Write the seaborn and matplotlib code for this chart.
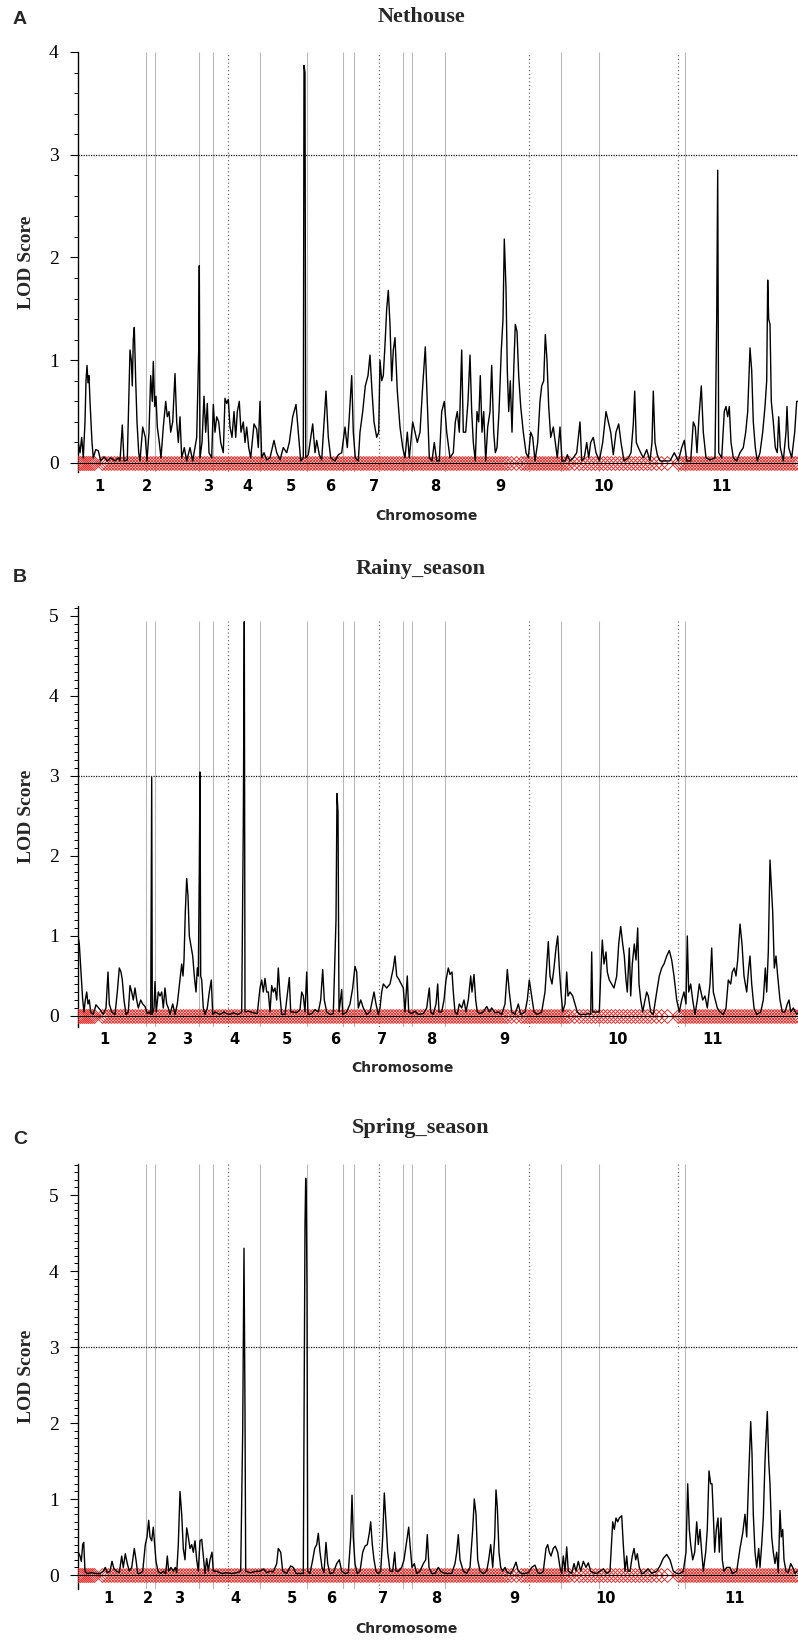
import matplotlib
matplotlib.use("Agg")
import numpy as np
import pandas as pd
import matplotlib.pyplot as plt
import seaborn as sns
from matplotlib.ticker import FixedLocator

# ---------------- data ----------------
chrom_labels = ["1", "2", "3", "4", "5", "6", "7", "8", "9", "10", "11"]
chrom_pos_nethouse = [21, 69, 130, 169, 213, 252, 296, 357, 422, 526, 644]
chrom_pos_rainy = [26, 74, 109, 156, 209, 257, 304, 353, 426, 540, 635]
chrom_pos_spring = [30, 70, 101, 157, 214, 253, 305, 358, 436, 528, 657]

solid_lines = [68, 77, 121, 135, 182, 229, 265, 276, 325, 334, 367, 483, 521, 607]
dotted_lines = [150, 301, 451, 600]
lod_threshold = 3.0

marker_pos = [0, 2, 4, 6, 8, 10, 12, 14, 16, 24, 27, 30, 33, 36, 39, 42, 45, 48, 51, 54,
              57, 60, 63, 66, 69, 72, 75, 78, 81, 84, 87, 90, 93, 96, 99, 102, 105, 108,
              111, 114, 117, 120, 123, 126, 129, 132, 135, 138, 141, 144, 147, 150, 153,
              156, 159, 162, 165, 168, 171, 174, 177, 180, 183, 186, 189, 192, 195, 198,
              201, 204, 207, 210, 213, 216, 219, 222, 225, 228, 231, 234, 237, 240, 243,
              246, 249, 252, 255, 258, 261, 264, 267, 270, 273, 276, 279, 282, 285, 288,
              291, 294, 297, 300, 303, 306, 309, 312, 315, 318, 321, 324, 327, 330, 333,
              336, 339, 342, 345, 348, 351, 354, 357, 360, 363, 366, 369, 372, 375, 378,
              381, 384, 387, 390, 393, 396, 399, 402, 405, 408, 411, 414, 417, 420, 423,
              426, 429, 433, 438, 443, 446, 449, 452, 455, 458, 461, 464, 467, 470, 473,
              476, 479, 482, 485, 488, 491, 496, 501, 505, 509, 513, 517, 521, 525, 529,
              533, 537, 541, 545, 549, 553, 557, 561, 565, 569, 573, 578, 583, 589, 600,
              603, 606, 609, 612, 615, 618, 621, 624, 627, 630, 633, 636, 639, 642, 645,
              648, 651, 654, 657, 660, 663, 666, 669, 672, 675, 678, 681, 684, 687, 690,
              693, 696, 699, 702, 705, 708, 711, 714, 717, 720]

nethouse_profile = [
    (0.3, 0.2), (2, 0.1), (3.7, 0.25), (5.3, 0.05), (7, 0.4), (8, 0.8), (9, 0.95), (10, 0.78),
    (11, 0.85), (12, 0.6), (13, 0.4), (14, 0.2), (15.3, 0.05), (17.7, 0.13), (20.3, 0.12),
    (22.7, 0.02), (26, 0.06), (29.3, 0.02), (32.7, 0.05), (37, 0.02), (40.3, 0.05), (42, 0.02),
    (44.3, 0.37), (46, 0.02), (49.3, 0.03), (50.7, 0.6), (52, 1.1), (53.3, 1.0), (54.3, 0.75),
    (55.3, 1.2), (56.3, 1.32), (57.7, 0.8), (59, 0.4), (60.7, 0.1), (62, 0.02), (64.7, 0.35),
    (67.3, 0.25), (69, 0.02), (71, 0.3), (72.7, 0.85), (74.3, 0.6), (75.3, 0.99), (76.7, 0.55),
    (78, 0.65), (79.3, 0.35), (81.3, 0.2), (83, 0.05), (85.3, 0.35), (87.7, 0.6), (89.3, 0.45),
    (91, 0.5), (92.7, 0.3), (94.7, 0.4), (97, 0.87), (98.7, 0.4), (100.3, 0.2), (102, 0.45),
    (103.7, 0.05), (106.3, 0.15), (108.7, 0.02), (112, 0.15), (114.7, 0.02), (118.7, 0.25),
    (120.7, 1.1), (121.3, 1.92), (122, 0.05), (124, 0.2), (126, 0.65), (127.7, 0.3),
    (129.3, 0.58), (131, 0.1), (133.7, 0.05), (135.3, 0.57), (137, 0.3), (138.7, 0.45),
    (140.7, 0.4), (142.7, 0.2), (145.3, 0.1), (147, 0.63), (148.7, 0.58), (150.3, 0.62),
    (152, 0.35), (154, 0.25), (156, 0.5), (157.7, 0.25), (159.3, 0.5), (161.3, 0.6), (163, 0.3),
    (165.3, 0.4), (167, 0.2), (168.7, 0.35), (170.7, 0.15), (172.7, 0.05), (176, 0.38),
    (178.7, 0.33), (180.3, 0.15), (182, 0.6), (183.7, 0.05), (186, 0.1), (188.7, 0.03),
    (192, 0.05), (196, 0.22), (198.7, 0.1), (202, 0.03), (205.3, 0.15), (208.7, 0.1),
    (211.3, 0.2), (214.7, 0.45), (218, 0.57), (220.3, 0.3), (222.7, 0.02), (225.3, 0.05),
    (226, 3.87), (227, 3.8), (227.7, 0.05), (230.3, 0.08), (234.7, 0.38), (237, 0.1),
    (238.7, 0.22), (241.3, 0.08), (243.7, 0.03), (248, 0.7), (250.3, 0.25), (252.7, 0.05),
    (257, 0.02), (260.3, 0.08), (263.7, 0.1), (267, 0.35), (269.3, 0.15), (271.3, 0.45),
    (273.7, 0.85), (275.3, 0.3), (277.3, 0.05), (280.3, 0.02), (282, 0.3), (284.7, 0.5),
    (287.3, 0.75), (290, 0.85), (292, 1.05), (294, 0.7), (296, 0.4), (298.7, 0.25),
    (300.7, 0.3), (302, 1.0), (303.7, 0.8), (305.3, 0.85), (307, 1.15), (308.7, 1.5),
    (310.3, 1.68), (312, 1.35), (313.7, 0.8), (315.3, 1.1), (317, 1.22), (319.3, 0.7),
    (321.3, 0.45), (322, 0.35), (324.7, 0.15), (327, 0.05), (329.3, 0.3), (331.3, 0.05),
    (334.7, 0.4), (337, 0.3), (339.3, 0.2), (342, 0.3), (344.7, 0.75), (347.3, 1.13),
    (349.3, 0.6), (351.3, 0.05), (354, 0.02), (356.3, 0.2), (358.7, 0.02), (361.3, 0.02),
    (363.7, 0.5), (366.3, 0.6), (368.7, 0.3), (372, 0.05), (375.3, 0.1), (377.3, 0.4),
    (379.3, 0.5), (381.3, 0.3), (383.7, 1.1), (385.3, 0.3), (387.7, 0.3), (390, 0.6),
    (392, 1.05), (393.7, 0.5), (395.3, 0.2), (397.3, 0.02), (399, 0.5), (400.7, 0.4),
    (402.3, 0.85), (404, 0.3), (405.7, 0.5), (407.7, 0.02), (409.7, 0.35), (412, 0.5),
    (413.7, 0.95), (415.7, 0.3), (417.3, 0.1), (419, 0.15), (421, 0.5), (423.3, 1.1),
    (425, 1.4), (426.3, 2.18), (428, 1.7), (429.3, 0.9), (430.7, 0.5), (432.3, 0.8),
    (434, 0.3), (435.7, 0.9), (437.3, 1.35), (439, 1.28), (440.7, 0.85), (442.7, 0.55),
    (445.3, 0.3), (448, 0.1), (450.3, 0.05), (452.7, 0.3), (454.7, 0.25), (457, 0.02),
    (459.7, 0.2), (462, 0.6), (463.7, 0.75), (465.7, 0.8), (467.3, 1.25), (469, 1.0),
    (470.7, 0.55), (472.7, 0.25), (475.3, 0.35), (477.3, 0.2), (479.3, 0.05), (482, 0.35),
    (484, 0.02), (487.3, 0.02), (489.3, 0.08), (492, 0.02), (495.3, 0.05), (498.7, 0.1),
    (502, 0.4), (503.7, 0.02), (506.3, 0.05), (508.7, 0.2), (510.7, 0.05), (512.7, 0.2),
    (515.3, 0.25), (518, 0.1), (521.3, 0.02), (524.7, 0.2), (528, 0.5), (530.3, 0.4),
    (532.7, 0.3), (535.3, 0.08), (538, 0.3), (540.7, 0.38), (543, 0.2), (546, 0.02),
    (550.3, 0.05), (553, 0.1), (555.3, 0.38), (556.7, 0.7), (558.3, 0.2), (560.3, 0.15),
    (562.7, 0.1), (565.3, 0.05), (568.7, 0.13), (572, 0.02), (574, 0.2), (575.3, 0.7),
    (577, 0.2), (579.3, 0.08), (582, 0.02), (587, 0.02), (592, 0.02), (596.3, 0.1),
    (600.3, 0.02), (603.7, 0.15), (606.3, 0.22), (608.7, 0.02), (612.7, 0.02), (615.3, 0.4),
    (617.3, 0.35), (619, 0.1), (621, 0.45), (623.3, 0.75), (625.3, 0.3), (628, 0.05),
    (632, 0.03), (637, 0.05), (638.7, 1.4), (639.7, 2.85), (640.7, 0.1), (643.7, 0.05),
    (646.3, 0.5), (648, 0.55), (649.7, 0.45), (651.3, 0.55), (653, 0.2), (655.3, 0.05),
    (658.7, 0.02), (662, 0.1), (665.3, 0.15), (667.7, 0.3), (669.7, 0.5), (672, 1.12),
    (673.7, 0.9), (675.3, 0.4), (677.3, 0.15), (679.3, 0.02), (682, 0.1), (684.7, 0.3),
    (687, 0.55), (688.7, 0.8), (689.7, 1.78), (690.7, 1.4), (692, 1.35), (693.3, 0.6),
    (695.3, 0.4), (697.3, 0.15), (699.3, 0.1), (700.7, 0.45), (702.3, 0.15), (705.3, 0.02),
    (708, 0.3), (709, 0.55), (710.7, 0.15), (713.7, 0.05), (716.7, 0.3), (718.7, 0.6),
    (720.7, 0.6)]

rainy_profile = [
    (0.3, 0.98), (1.3, 0.9), (2.7, 0.6), (3.7, 0.4), (4.7, 0.2), (6, 0.05), (7.3, 0.2),
    (8.7, 0.3), (10, 0.15), (11.3, 0.2), (12.7, 0.05), (15.3, 0.02), (18, 0.14), (22, 0.08),
    (25.3, 0.02), (28, 0.1), (30, 0.55), (31.3, 0.15), (33.7, 0.05), (37, 0.02), (39.3, 0.3),
    (41.3, 0.6), (43, 0.55), (44.3, 0.45), (46, 0.2), (48, 0.02), (50.3, 0.05), (52, 0.38),
    (53.7, 0.3), (55.3, 0.2), (57, 0.35), (58.7, 0.2), (60.3, 0.1), (62.7, 0.2), (64.7, 0.15),
    (67, 0.12), (69.3, 0.03), (71.3, 0.05), (72.7, 0.02), (73.7, 2.98), (74.3, 0.02), (76, 0.1),
    (77, 0.43), (78.3, 0.05), (80.3, 0.3), (82, 0.25), (83.7, 0.3), (85.3, 0.1), (87, 0.35),
    (88.7, 0.15), (90.3, 0.1), (92, 0.02), (94.7, 0.15), (97, 0.02), (99.3, 0.15), (102, 0.45),
    (103.7, 0.65), (105, 0.5), (106, 0.7), (107.3, 1.3), (108.7, 1.72), (110, 1.5),
    (111.3, 1.0), (112.7, 0.9), (114.7, 0.75), (116.3, 0.5), (118, 0.3), (119.3, 0.6),
    (120.3, 0.5), (121.3, 1.8), (122, 3.05), (122.7, 0.5), (123.7, 0.45), (125.3, 0.1),
    (127, 0.02), (129.3, 0.1), (131.3, 0.3), (133.3, 0.45), (134.7, 0.02), (137, 0.05),
    (142, 0.02), (146, 0.05), (148.7, 0.03), (152, 0.02), (155.3, 0.04), (160.3, 0.02),
    (163.7, 0.05), (165.3, 2.4), (166.3, 4.93), (167, 0.05), (170.3, 0.06), (175.3, 0.04),
    (179.3, 0.03), (182, 0.35), (183.7, 0.45), (185.3, 0.3), (187, 0.47), (188.7, 0.3),
    (190.3, 0.3), (192, 0.05), (193.7, 0.38), (195.3, 0.3), (197, 0.35), (198.7, 0.2),
    (200.3, 0.6), (202, 0.25), (203.7, 0.02), (207, 0.02), (211.3, 0.48), (212.7, 0.05),
    (215.3, 0.05), (218.7, 0.04), (222, 0.08), (223.7, 0.3), (225.3, 0.25), (227, 0.05),
    (228.7, 0.55), (230, 0.02), (233.7, 0.03), (237, 0.08), (240.3, 0.05), (242.7, 0.2),
    (244.7, 0.58), (246.3, 0.2), (248.7, 0.05), (252, 0.02), (255.3, 0.03), (258, 1.2),
    (259, 2.78), (260, 2.55), (261, 0.05), (263.7, 0.33), (264.7, 0.02), (268.7, 0.05),
    (272, 0.15), (274.7, 0.35), (277, 0.62), (278.7, 0.55), (280.3, 0.1), (282.7, 0.2),
    (285.3, 0.1), (288.7, 0.02), (292, 0.05), (296, 0.3), (298, 0.15), (300.3, 0.02),
    (302, 0.1), (303.7, 0.3), (305.3, 0.4), (308.7, 0.35), (312, 0.4), (315.3, 0.6),
    (317, 0.75), (318.7, 0.5), (321.3, 0.45), (322, 0.43), (325.3, 0.35), (327, 0.05),
    (329.3, 0.5), (330.7, 0.05), (333.7, 0.03), (337, 0.06), (340.3, 0.02), (345.3, 0.03),
    (348.7, 0.1), (351.3, 0.35), (352.7, 0.05), (355.3, 0.02), (358, 0.15), (359.7, 0.4),
    (361, 0.05), (363.7, 0.05), (366, 0.2), (368, 0.45), (370.3, 0.6), (372, 0.52),
    (374, 0.55), (375.3, 0.3), (377, 0.05), (379.3, 0.02), (381.3, 0.15), (383.7, 0.1),
    (386, 0.2), (388, 0.05), (390.3, 0.2), (392.7, 0.5), (394, 0.3), (396, 0.52),
    (397.7, 0.2), (399.3, 0.05), (402, 0.03), (405.3, 0.05), (408.7, 0.12), (411.3, 0.05),
    (413.7, 0.1), (417, 0.04), (420.3, 0.05), (423.7, 0.02), (427, 0.15), (429.3, 0.58),
    (431.3, 0.3), (433.7, 0.05), (437, 0.02), (440.3, 0.15), (442.7, 0.02), (447, 0.05),
    (449.3, 0.2), (451.3, 0.45), (453.7, 0.25), (456, 0.05), (459.3, 0.02), (463.7, 0.05),
    (467, 0.3), (470.3, 0.93), (472, 0.5), (474, 0.4), (476, 0.6), (478, 0.85), (479.7, 1.0),
    (481.3, 0.6), (483, 0.3), (484.7, 0.05), (487, 0.15), (488.7, 0.55), (490, 0.25),
    (492, 0.3), (494.7, 0.25), (497, 0.15), (499.3, 0.05), (502, 0.02), (507, 0.02),
    (510.3, 0.03), (512.7, 0.02), (513.7, 0.8), (514.7, 0.05), (518.7, 0.05), (521.3, 0.05),
    (523, 0.6), (524.3, 0.95), (526, 0.65), (528, 0.8), (529.3, 0.55), (531.3, 0.45),
    (533.7, 0.4), (536, 0.35), (538.7, 0.5), (540.7, 0.9), (542.7, 1.12), (544.7, 0.9),
    (546.3, 0.75), (548, 0.45), (549.3, 0.3), (551.3, 0.85), (552.7, 0.25), (554.3, 0.65),
    (556.3, 0.9), (558, 0.7), (559.7, 1.1), (561, 0.4), (562.7, 0.2), (564.7, 0.05),
    (567, 0.2), (568.7, 0.3), (570.3, 0.25), (572.7, 0.05), (575.3, 0.02), (578.7, 0.3),
    (581.3, 0.5), (583.7, 0.6), (586, 0.65), (588.7, 0.75), (591.3, 0.82), (593.7, 0.7),
    (596, 0.5), (598.7, 0.2), (601.3, 0.05), (603.7, 0.2), (606, 0.3), (608, 0.15),
    (609.3, 1.0), (610.7, 0.3), (612.7, 0.4), (614.7, 0.2), (617, 0.02), (619.3, 0.2),
    (621.3, 0.4), (623, 0.3), (624.7, 0.2), (627, 0.25), (629.3, 0.1), (632, 0.4),
    (633.7, 0.85), (635.3, 0.3), (637.3, 0.2), (639.3, 0.1), (642, 0.05), (645.3, 0.02),
    (648, 0.1), (650.3, 0.45), (652.7, 0.4), (654.3, 0.55), (656.3, 0.6), (658, 0.5),
    (659.7, 0.7), (662, 1.15), (664, 0.9), (666, 0.5), (668.7, 0.3), (670.7, 0.6),
    (672, 0.75), (673.7, 0.4), (676, 0.1), (678.7, 0.02), (682.7, 0.05), (685.3, 0.2),
    (687.3, 0.6), (688.7, 0.3), (690.3, 0.8), (692, 1.95), (693, 1.7), (694.7, 1.3),
    (696.3, 0.6), (698, 0.75), (699.7, 0.5), (702, 0.2), (704.3, 0.05), (707, 0.05),
    (709.3, 0.15), (711, 0.2), (712.7, 0.05), (715.3, 0.1), (718.7, 0.02), (720.7, 0.05)]

spring_profile = [
    (0.3, 0.3), (2, 0.25), (3.3, 0.18), (4.7, 0.4), (5.7, 0.43), (7, 0.05), (9.3, 0.02),
    (13.7, 0.03), (18.7, 0.02), (22, 0.02), (25.3, 0.05), (27.3, 0.1), (29.3, 0.03), (32, 0.05),
    (34, 0.18), (36, 0.08), (38.7, 0.05), (41.3, 0.03), (43.7, 0.25), (45.3, 0.1), (47.3, 0.28),
    (49.3, 0.15), (51.3, 0.05), (53.7, 0.1), (56.3, 0.35), (58, 0.2), (59.7, 0.02), (62, 0.02),
    (64.7, 0.05), (67.3, 0.4), (69, 0.5), (70.7, 0.72), (72, 0.5), (73.7, 0.45), (75.3, 0.63),
    (76.7, 0.4), (78, 0.18), (80, 0.05), (82.7, 0.02), (85.3, 0.05), (87.7, 0.02), (89.3, 0.25),
    (90.7, 0.05), (93, 0.1), (95.3, 0.05), (97.3, 0.1), (98.7, 0.03), (100.3, 0.4), (102, 1.1),
    (103.7, 0.8), (105.3, 0.35), (107, 0.2), (108.7, 0.62), (110.3, 0.5), (112, 0.35),
    (113.7, 0.4), (115.3, 0.3), (117, 0.45), (118.7, 0.2), (120.3, 0.05), (122, 0.45),
    (123.7, 0.47), (125.3, 0.25), (127, 0.02), (128.7, 0.22), (130.3, 0.05), (132, 0.2),
    (134, 0.3), (135.3, 0.05), (138.7, 0.05), (143.7, 0.02), (148.7, 0.03), (153.7, 0.02),
    (158.7, 0.03), (162.7, 0.05), (164.7, 1.9), (166, 4.3), (167, 2.15), (167.7, 0.05),
    (172, 0.03), (178.7, 0.05), (182, 0.05), (185.3, 0.08), (188.7, 0.03), (192, 0.05),
    (195.3, 0.04), (198.7, 0.15), (200.3, 0.35), (202.7, 0.3), (204.7, 0.05), (208.7, 0.02),
    (212.7, 0.12), (215.3, 0.1), (218, 0.02), (222, 0.02), (225.3, 0.02), (227, 4.6),
    (227.7, 5.22), (228.3, 4.95), (229, 3.75), (229.7, 0.05), (232, 0.02), (234.7, 0.2),
    (236.7, 0.35), (238.7, 0.4), (240.3, 0.55), (242, 0.3), (244, 0.1), (246, 0.03),
    (248, 0.43), (249.7, 0.15), (252, 0.02), (255.3, 0.03), (258.7, 0.15), (261.3, 0.2),
    (263.7, 0.05), (267, 0.02), (270.3, 0.03), (272.7, 0.5), (274, 1.05), (275.3, 0.5),
    (277, 0.15), (279.3, 0.02), (282, 0.05), (284.7, 0.3), (287, 0.38), (289.3, 0.4),
    (291.3, 0.55), (292.7, 0.7), (294.3, 0.4), (296, 0.2), (298, 0.05), (300.3, 0.02),
    (302.7, 0.05), (304.7, 0.5), (306.3, 1.08), (308, 0.7), (309.7, 0.3), (312, 0.05),
    (314.7, 0.05), (316.7, 0.3), (318, 0.05), (320.3, 0.05), (323.7, 0.1), (326, 0.2),
    (328.7, 0.45), (330.7, 0.63), (332, 0.4), (334, 0.1), (336.3, 0.15), (338.7, 0.02),
    (342, 0.05), (345.3, 0.15), (347.7, 0.2), (349.3, 0.53), (351, 0.1), (353.7, 0.02),
    (357, 0.02), (360.3, 0.1), (362.7, 0.05), (365.3, 0.03), (368.7, 0.02), (373.7, 0.02),
    (377, 0.15), (378.7, 0.3), (380.3, 0.53), (382, 0.2), (385.3, 0.05), (388.7, 0.02),
    (392, 0.1), (394.7, 0.6), (396.3, 1.0), (398, 0.8), (399.7, 0.2), (402, 0.05),
    (405.3, 0.02), (408.7, 0.05), (410.7, 0.2), (412.7, 0.4), (414.7, 0.1), (416.7, 0.5),
    (418, 1.12), (419.3, 0.9), (421, 0.3), (422.7, 0.1), (424.7, 0.05), (427, 0.1),
    (429.3, 0.03), (432.7, 0.02), (435.3, 0.08), (438, 0.17), (440.3, 0.05), (443.7, 0.02),
    (447, 0.02), (450.3, 0.03), (453.7, 0.1), (457, 0.13), (459.7, 0.03), (462.7, 0.02),
    (465.3, 0.05), (468, 0.35), (469.7, 0.4), (471.3, 0.3), (473, 0.25), (475.3, 0.35),
    (477.3, 0.38), (479.7, 0.3), (482, 0.1), (483.7, 0.02), (485.3, 0.25), (487, 0.05),
    (488.7, 0.37), (490.3, 0.05), (493.7, 0.02), (496, 0.15), (498, 0.05), (500.3, 0.18),
    (502.7, 0.05), (505.3, 0.18), (508, 0.1), (510.3, 0.16), (512.7, 0.05), (515.3, 0.03),
    (518.7, 0.02), (522, 0.05), (525.3, 0.08), (528.7, 0.02), (532, 0.05), (534.7, 0.7),
    (536.3, 0.6), (538, 0.75), (539.7, 0.7), (541.3, 0.75), (543.7, 0.78), (545.3, 0.4),
    (547, 0.05), (548.7, 0.25), (550, 0.05), (552, 0.05), (554.3, 0.25), (556, 0.35),
    (557.7, 0.2), (559.3, 0.28), (561.3, 0.1), (563.7, 0.02), (565.3, 0.02), (570.3, 0.08),
    (573.7, 0.02), (578.7, 0.05), (582, 0.12), (585.3, 0.22), (588.7, 0.27), (592, 0.2),
    (595.3, 0.05), (598.7, 0.02), (602, 0.02), (605.3, 0.05), (608, 0.3), (609.7, 1.2),
    (611.3, 0.6), (612.7, 0.4), (614.7, 0.2), (616.7, 0.3), (618.7, 0.7), (620.3, 0.4),
    (622, 0.6), (623.7, 0.3), (625.3, 0.05), (627.7, 0.3), (629.3, 0.6), (631, 1.37),
    (632.7, 1.2), (634, 1.2), (635.3, 0.8), (636.7, 0.3), (638.3, 0.6), (640, 0.75),
    (641.3, 0.3), (643, 0.75), (644.3, 0.2), (646, 0.05), (648.7, 0.1), (652, 0.1),
    (654.3, 0.02), (658.7, 0.05), (662, 0.35), (664.7, 0.55), (667, 0.8), (668.7, 0.5),
    (670.7, 1.3), (672.7, 2.02), (674, 1.6), (675.3, 0.8), (677, 0.3), (678.7, 0.1),
    (680.7, 0.35), (682, 0.1), (683.7, 0.4), (685.3, 0.75), (687, 1.5), (688, 1.8),
    (689.3, 2.15), (690.7, 1.5), (692, 1.2), (693.7, 0.5), (695.3, 0.3), (697, 0.15),
    (698.7, 0.3), (700.3, 0.03), (702, 0.85), (703.3, 0.5), (704.7, 0.6), (706, 0.2),
    (708, 0.05), (710.3, 0.03), (712.7, 0.15), (714.7, 0.1), (717, 0.02), (719.3, 0.05)]

panel_letters = ["A", "B", "C"]
panel_titles = ["Nethouse", "Rainy_season", "Spring_season"]

# ---------------- style ----------------
sns.set_style("white")
plt.rcParams["font.family"] = ["Liberation Serif", "DejaVu Serif"]

W, H = 798, 1641
fig = plt.figure(figsize=(W / 100, H / 100), dpi=100)

layout = [
    dict(top=52, bottom=472, ylim=(-0.0876, 4.0), gtop=4.0, minor=0.2, ymax_major=4,
         title_y=25, xlab_x=426, xlab_y=516, letter_y=20,
         profile=nethouse_profile, chrom=chrom_pos_nethouse),
    dict(top=606, bottom=1027, ylim=(-0.1375, 5.125), gtop=4.94, minor=0.1, ymax_major=5,
         title_y=577, xlab_x=402, xlab_y=1068, letter_y=578,
         profile=rainy_profile, chrom=chrom_pos_rainy),
    dict(top=1164, bottom=1589, ylim=(-0.184, 5.408), gtop=5.408, minor=0.1, ymax_major=5,
         title_y=1136, xlab_x=406, xlab_y=1629, letter_y=1139,
         profile=spring_profile, chrom=chrom_pos_spring),
]

AX_L, AX_R = 78, 798
red = "#e8332f"

for i, cfg in enumerate(layout):
    h_px = cfg["bottom"] - cfg["top"]
    ax = fig.add_axes([AX_L / W, 1 - cfg["bottom"] / H, (AX_R - AX_L) / W, h_px / H])
    ylo, yhi = cfg["ylim"]

    # chromosome boundary lines
    ax.vlines(solid_lines, ylo, cfg["gtop"], colors="#b9b9b9", linewidth=0.8, zorder=1)
    ax.vlines(dotted_lines, ylo, cfg["gtop"], colors="#6e6e6e", linewidth=0.9,
              linestyles=(0, (1, 2)), zorder=1)
    # significance threshold
    ax.axhline(lod_threshold, color="#1a1a1a", linewidth=0.9, linestyle=(0, (1, 1)), zorder=2)

    # markers along the map
    mdf = pd.DataFrame({"pos": marker_pos, "y": [0.0] * len(marker_pos)})
    sns.lineplot(data=mdf, x="pos", y="y", estimator=None, sort=False, ax=ax,
                 linestyle="", marker="D", markersize=7.5, markerfacecolor="none",
                 markeredgecolor=red, markeredgewidth=0.7, color=red, zorder=3)

    # LOD profile
    df = pd.DataFrame(cfg["profile"], columns=["pos", "lod"])
    sns.lineplot(data=df, x="pos", y="lod", estimator=None, sort=False, ax=ax,
                 color="black", linewidth=1.0, zorder=4)

    ax.set_xlim(0, AX_R - AX_L)
    ax.set_ylim(ylo, yhi)

    for s in ["top", "right"]:
        ax.spines[s].set_visible(False)
    ax.spines["bottom"].set_position(("data", 0))
    ax.spines["bottom"].set_color("black")
    ax.spines["bottom"].set_linewidth(0.8)
    ax.spines["bottom"].set_zorder(5)
    ax.spines["left"].set_color("black")
    ax.spines["left"].set_linewidth(1.0)

    ax.set_xticks(cfg["chrom"])
    ax.set_xticklabels(chrom_labels, fontfamily="DejaVu Sans", fontweight="bold", fontsize=10.5)
    ax.xaxis.set_minor_locator(FixedLocator(dotted_lines))
    ax.tick_params(axis="x", which="major", length=0, pad=11.5, colors="black")
    ax.tick_params(axis="x", which="minor", length=5.8, width=0.8, direction="out",
                   color="black")

    ax.yaxis.set_major_locator(FixedLocator(list(range(0, cfg["ymax_major"] + 1))))
    minors = [round(v, 2) for v in np.arange(0, yhi + 1e-6, cfg["minor"])]
    ax.yaxis.set_minor_locator(FixedLocator(minors))
    ax.tick_params(axis="y", which="major", length=5.8, width=0.8, pad=8, labelsize=14,
                   colors="black", left=True)
    ax.tick_params(axis="y", which="minor", length=2.9, width=0.7, left=True, color="black")

    ax.set_ylabel("LOD Score", fontsize=14, fontweight="bold")
    ax.yaxis.set_label_coords((26 - AX_L) / (AX_R - AX_L), 0.5)
    ax.yaxis.label.set_va("center")

    ax.set_xlabel("Chromosome", fontfamily="DejaVu Sans", fontweight="bold", fontsize=10)
    ax.xaxis.set_label_coords((cfg["xlab_x"] - AX_L) / (AX_R - AX_L),
                              (cfg["bottom"] - cfg["xlab_y"]) / h_px)
    ax.xaxis.label.set_va("center")

    ax.set_title(panel_titles[i], x=(421 - AX_L) / (AX_R - AX_L),
                 y=1 + (cfg["top"] - cfg["title_y"]) / h_px, va="center",
                 fontsize=16, fontweight="bold")

    fig.text(20 / W, 1 - cfg["letter_y"] / H, panel_letters[i], ha="center", va="center",
             fontsize=14, fontweight="bold", family="Liberation Sans")

fig.savefig("out.png", dpi=100, facecolor="white")
